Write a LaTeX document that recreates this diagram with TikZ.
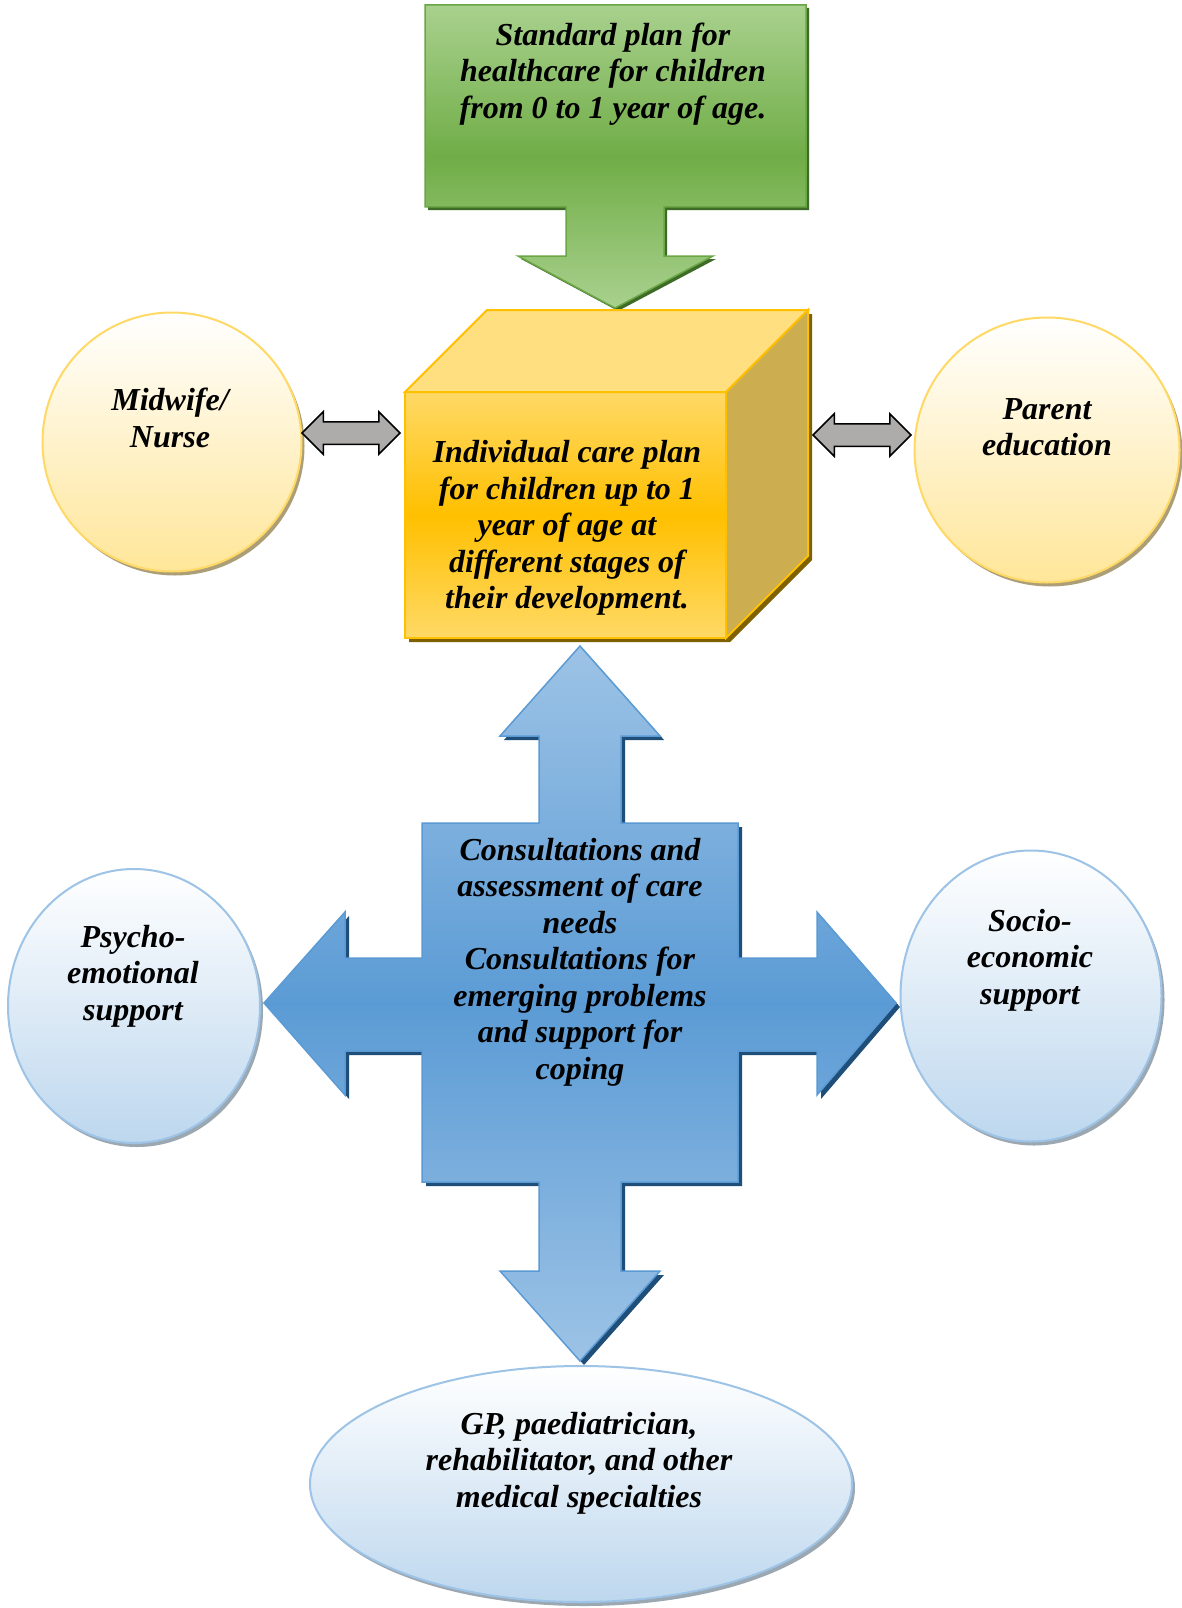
\documentclass[tikz,border=0pt]{standalone}
\usepackage{fontspec}
\setmainfont{Liberation Serif}
\usetikzlibrary{calc,shapes.arrows,shapes.geometric}

\definecolor{greenLight}{HTML}{A9D18E}
\definecolor{greenDark}{HTML}{70AD47}
\definecolor{greenEdge}{HTML}{6AA546}
\definecolor{greenShadow}{HTML}{3E6B26}
\definecolor{goldLight}{HTML}{FFD966}
\definecolor{goldMid}{HTML}{FFC000}
\definecolor{goldTop}{HTML}{FFDF80}
\definecolor{goldSide}{HTML}{CCAD50}
\definecolor{goldEdge}{HTML}{FFC000}
\definecolor{goldShadow}{HTML}{7F6000}
\definecolor{blueLight}{HTML}{9DC3E6}
\definecolor{blueMid}{HTML}{5B9BD5}
\definecolor{blueEdge}{HTML}{5B9BD5}
\definecolor{blueShadow}{HTML}{1F4E79}
\definecolor{circYellow}{HTML}{FFE699}
\definecolor{circYellowEdge}{HTML}{FFD966}
\definecolor{circBlue}{HTML}{BDD7EE}
\definecolor{circBlueEdge}{HTML}{9DC3E6}
\definecolor{arrowGray}{HTML}{AEABAB}

\tikzset{
  greenshape/.style={insert path={(425,5) -- (806,5) -- (806,207) -- (664,207)
    -- (664,256) -- (713,256) -- (615,308) -- (518,256) -- (566,256)
    -- (566,207) -- (425,207) -- cycle}},
  crossshape/.style={insert path={(422,823) -- (539,823) -- (539,736) -- (500,736)
    -- (580,646) -- (660,736) -- (621,736) -- (621,823) -- (738,823)
    -- (738,958) -- (817,958) -- (817,912) -- (896,1003) -- (817,1095)
    -- (817,1051) -- (738,1051) -- (738,1182) -- (621,1182) -- (621,1271)
    -- (660,1271) -- (580,1361) -- (500,1271) -- (539,1271) -- (539,1182)
    -- (422,1182) -- (422,1051) -- (345,1051) -- (345,1095) -- (264,1003)
    -- (345,912) -- (345,958) -- (422,958) -- cycle}},
  ycirc/.style={ellipse, inner sep=0pt, draw=circYellowEdge, line width=2pt,
    top color=white, bottom color=circYellow},
  bcirc/.style={ellipse, inner sep=0pt, draw=circBlueEdge, line width=2pt,
    top color=white, bottom color=circBlue},
  ycircsh/.style={ellipse, inner sep=0pt, fill=black!25!circYellow!70!gray},
  bcircsh/.style={ellipse, inner sep=0pt, fill=gray!55!circBlue},
  dblarrow/.style={double arrow, inner xsep=0pt, inner ysep=10.5pt,
    minimum height=98pt, double arrow head extend=10pt,
    fill=arrowGray, draw=black, line width=1.5pt}
}

\begin{document}
\begin{tikzpicture}[x=1pt, y=-1pt,
  every node/.style={font=\fontsize{32}{36.5}\selectfont\bfseries\itshape, align=center}]
\useasboundingbox[fill=white] (0,0) rectangle (1181,1608);

% ---------- STANDARD PLAN ----------
\fill[greenShadow, shift={(3,3)}, greenshape];
\path[draw=greenEdge, line width=1.5pt, top color=greenLight,
  bottom color=greenLight, middle color=greenDark, greenshape];
\node (planTxt) at (613,74) {Standard plan for\\healthcare for children\\from 0 to 1 year of age.};

% ---------- INDIVIDUAL CARE PLAN (cube) ----------
\fill[goldShadow] (409,396) -- (491,314) -- (812,314) -- (812,560) -- (730,642) -- (409,642) -- cycle;
\path[draw=goldEdge, line width=2pt, top color=goldLight, bottom color=goldLight,
  middle color=goldMid] (405,392) rectangle (726,638);
\draw[goldEdge, line width=2pt, fill=goldTop] (405,392) -- (487,310) -- (808,310) -- (726,392) -- cycle;
\draw[goldEdge, line width=2pt, fill=goldSide] (726,392) -- (808,310) -- (808,556) -- (726,638) -- cycle;
\node (cubeTxt) at (567,528) {Individual care plan\\for children up to 1\\year of age at\\different stages of\\their development.};

% ---------- UPPER CIRCLES ----------
\node[ycircsh, minimum width=259pt, minimum height=259pt] (midwifeSh) at (175,446) {};
\node[ycirc, minimum width=259pt, minimum height=259pt] (midwife) at (172,442) {};
\node (midwifeTxt) at (170,418) {Midwife/\\Nurse};

\node[ycircsh, minimum width=265pt, minimum height=265pt] (parentSh) at (1050,454) {};
\node[ycirc, minimum width=265pt, minimum height=265pt] (parent) at (1047,450) {};
\node (parentTxt) at (1047,427) {Parent\\education};

% two-way arrows
\node[dblarrow] (arrowL) at (351,433) {};
\node[dblarrow] (arrowR) at (862,435) {};

% ---------- CONSULTATIONS (cross) ----------
\fill[blueShadow, shift={(4,4)}, crossshape];
\path[draw=blueEdge, line width=1.5pt, top color=blueLight, bottom color=blueLight,
  middle color=blueMid, crossshape];
\node (consultTxt) at (580,962) {Consultations and\\assessment of care\\needs\\Consultations for\\emerging problems\\and support for\\coping};

% ---------- LOWER CIRCLES ----------
\node[bcircsh, minimum width=252pt, minimum height=274pt] (psychoSh) at (137,1010) {};
\node[bcirc, minimum width=252pt, minimum height=274pt] (psycho) at (134,1006) {};
\node (psychoTxt) at (133,976) {Psycho-\\emotional\\support};

\node[bcircsh, minimum width=261pt, minimum height=291pt] (socioSh) at (1034,1000) {};
\node[bcirc, minimum width=261pt, minimum height=291pt] (socio) at (1031,996) {};
\node (socioTxt) at (1030,960) {Socio-\\economic\\support};

\node[bcircsh, minimum width=542pt, minimum height=236pt] (gpSh) at (584,1488) {};
\node[bcirc, minimum width=542pt, minimum height=236pt] (gp) at (581,1484) {};
\node (gpTxt) at (579,1463) {GP, paediatrician,\\rehabilitator, and other\\medical specialties};

\end{tikzpicture}
\end{document}
